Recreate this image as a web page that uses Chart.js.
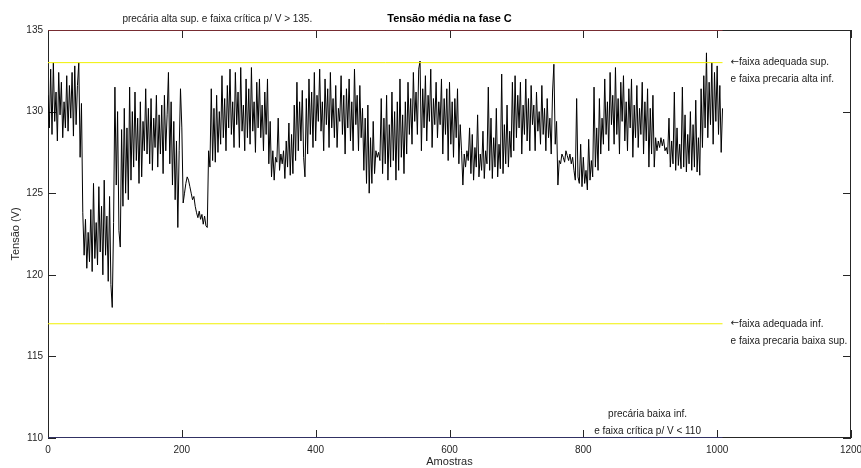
<!DOCTYPE html>
<html lang="pt">
<head>
<meta charset="utf-8">
<title>Tensão média na fase C</title>
<script src="https://cdn.jsdelivr.net/npm/chart.js@4.4.1/dist/chart.umd.min.js"></script>
<style>
  html, body { margin: 0; padding: 0; background: #fff; }
  canvas { display: block; }
</style>
</head>
<body>
<canvas id="tensaoChart" width="861" height="468"></canvas>
<script>
// Tensão lida a cada 2 amostras (V), uma linha por 100 amostras
var passo = 2;
var tensao = [
  131.0, 129.0, 132.6, 128.6, 133.0, 129.4, 131.2, 128.2, 132.4, 129.8, 131.8, 128.4, 130.6, 129.0, 132.2, 128.8, 131.6, 129.6, 132.4, 128.5, 132.8, 129.2, 131.6, 133.0, 127.2,
  130.5, 123.8, 121.2, 123.4, 120.4, 122.6, 120.8, 124.0, 120.2, 125.6, 121.0, 123.2, 120.6, 125.4, 121.4, 124.2, 120.0, 125.8, 121.2, 123.6, 119.6, 124.8, 119.4, 118.0, 123.2,
  131.5, 125.5, 130.0, 122.7, 121.7, 128.9, 124.2, 130.2, 125.0, 129.0, 124.6, 131.5, 125.8, 130.0, 126.6, 131.2, 127.0, 129.6, 125.6, 130.6, 126.0, 129.4, 127.6, 131.4, 127.4,
  130.2, 126.8, 130.8, 126.4, 129.6, 127.8, 131.0, 126.6, 129.8, 127.4, 130.4, 126.2, 131.0, 127.6, 129.8, 132.4, 126.8, 130.6, 125.5, 129.4, 124.6, 128.2, 122.9, 127.6, 131.4,
  129.0, 124.4, 125.0, 125.6, 126.0, 125.8, 125.4, 125.0, 124.6, 124.8, 124.2, 123.8, 123.5, 123.9, 123.4, 123.7, 123.1, 123.6, 123.0, 122.9, 127.6, 126.6, 131.4, 127.0, 130.2,
  126.9, 131.0, 127.5, 130.0, 128.0, 132.2, 128.4, 130.8, 127.6, 131.6, 129.0, 132.6, 128.6, 130.6, 127.8, 132.4, 129.2, 131.2, 127.8, 132.7, 128.8, 130.4, 127.6, 132.0, 128.4,
  131.4, 128.0, 132.7, 128.8, 130.6, 127.5, 131.8, 129.0, 132.0, 128.4, 130.4, 127.6, 131.2, 128.6, 132.0, 126.8, 129.4, 126.0, 127.6, 125.8, 127.2, 126.9, 129.6, 126.4, 127.4,
  126.8, 127.6, 125.9, 128.2, 126.6, 129.3, 126.1, 128.6, 126.2, 130.4, 127.0, 131.8, 127.6, 130.6, 128.2, 131.3, 127.2, 126.0, 130.8, 127.4, 132.0, 128.6, 131.2, 127.8, 132.4,
  128.2, 131.0, 129.4, 132.6, 128.8, 130.6, 127.6, 132.0, 129.2, 131.4, 127.8, 132.4, 129.0, 130.8, 128.4, 131.6, 127.8, 130.2, 129.4, 132.2, 128.6, 131.0, 127.4, 131.4, 129.0,
  132.0, 128.2, 130.6, 127.6, 132.6, 129.2, 131.0, 127.6, 131.6, 128.4, 130.2, 126.4, 129.6, 125.6, 130.4, 125.0, 128.4, 125.6, 129.4, 126.2, 127.6, 127.2, 127.5, 127.0, 130.8,
  126.2, 129.6, 126.8, 131.0, 125.8, 129.2, 126.6, 131.2, 127.0, 130.0, 125.8, 130.6, 126.4, 132.0, 127.2, 129.8, 126.2, 130.6, 127.4, 131.8, 128.6, 130.8, 128.0, 132.4, 129.4,
  131.2, 128.6, 132.6, 133.1, 127.6, 131.4, 129.0, 132.2, 128.2, 131.0, 129.4, 132.6, 127.8, 130.8, 129.2, 131.8, 128.4, 130.6, 129.2, 132.0, 127.4, 130.8, 128.6, 131.4, 127.0,
  131.8, 128.0, 130.6, 127.2, 130.8, 128.4, 131.4, 126.8, 129.2, 127.6, 125.5, 127.4, 126.6, 127.6, 127.0, 129.0, 126.2, 128.6, 125.8, 127.8, 126.6, 129.8, 126.0, 127.4, 126.4,
  128.8, 125.9, 127.6, 126.8, 131.5, 126.4, 129.6, 125.9, 128.4, 126.6, 130.2, 126.0, 128.0, 126.5, 132.3, 126.2, 129.2, 126.8, 130.4, 126.6, 128.8, 127.2, 131.8, 127.6, 132.2,
  128.4, 131.0, 129.0, 131.8, 127.4, 130.4, 128.6, 132.0, 128.2, 130.8, 127.6, 131.6, 129.2, 130.4, 127.6, 131.2, 128.8, 130.0, 128.0, 131.6, 128.6, 130.2, 127.6, 130.8, 128.4,
  129.6, 127.4, 131.2, 132.9, 128.0, 129.4, 125.5, 127.0, 126.8, 127.4, 127.2, 126.9, 127.6, 127.3, 127.0, 127.4, 126.8, 127.2, 126.4, 125.8, 130.8, 126.0, 125.6, 128.0, 125.4,
  127.2, 125.6, 126.4, 125.2, 128.3, 125.8, 127.0, 126.0, 131.5, 126.6, 129.0, 126.4, 130.8, 127.4, 129.6, 128.0, 132.0, 128.6, 130.6, 127.6, 132.4, 129.2, 131.0, 128.0, 132.7,
  128.6, 130.8, 127.4, 131.8, 129.4, 132.2, 128.2, 130.6, 127.6, 131.4, 129.0, 132.0, 127.2, 130.4, 128.4, 131.6, 127.8, 130.2, 128.6, 131.8, 127.4, 130.6, 128.2, 131.4, 126.6,
  130.2, 127.4, 131.0, 126.6, 128.4, 127.6, 128.2, 127.8, 128.4, 127.9, 128.3, 127.6, 127.8, 127.4, 129.6, 126.6, 128.2, 126.8, 131.2, 126.4, 129.0, 126.7, 128.0, 126.5, 131.5,
  126.6, 129.8, 126.3, 128.6, 126.8, 130.0, 126.4, 129.2, 126.6, 130.7, 126.3, 128.4, 126.1, 131.4, 127.8, 132.2, 129.0, 133.6, 128.4, 131.8, 129.2, 133.0, 128.0, 132.4, 129.4,
  132.8, 128.6, 131.6, 127.5, 130.2
];

// Linhas das faixas de tensão
var limites = [135, 133, 117, 110];
var coresLimites = ['#c8323c', '#f0f000', '#f0f000', '#3c3ca0'];
var fimLimites = 1008;

// Ticks dos eixos
var ticksX = [0, 200, 400, 600, 800, 1000, 1200];
var ticksY = [110, 115, 120, 125, 130, 135];

// Textos: [texto, x, y, alinhamento, deslocamento vertical em px]
var textos = [
  ['precária alta sup. e faixa crítica p/ V > 135.', 253, 135, 'center', -11],
  ['\u2190faixa adequada sup.', 1020, 133, 'left', 0],
  ['e faixa precaria alta inf.', 1020, 133, 'left', 17],
  ['\u2190faixa adequada inf.', 1020, 117, 'left', 0],
  ['e faixa precaria baixa sup.', 1020, 117, 'left', 17],
  ['precária baixa inf.', 896, 110, 'center', -24],
  ['e faixa crítica p/ V < 110', 896, 110, 'center', -7]
];

var fonte = '"Liberation Sans", Arial, Helvetica, sans-serif';

var datasets = [];
for (var i = 0; i < limites.length; i++) {
  datasets.push({
    data: [{ x: 0, y: limites[i] }, { x: fimLimites, y: limites[i] }],
    borderColor: coresLimites[i],
    borderWidth: 1,
    pointRadius: 0
  });
}
datasets.push({
  data: tensao.map(function (v, i) { return { x: i * passo, y: v }; }),
  borderColor: '#000',
  borderWidth: 1,
  pointRadius: 0,
  tension: 0
});

// Fundo, moldura, ticks para dentro e textos (estilo MATLAB)
var molduraPlugin = {
  id: 'moldura',
  beforeDraw: function (chart) {
    var ctx = chart.ctx;
    ctx.save();
    ctx.fillStyle = '#fff';
    ctx.fillRect(0, 0, chart.width, chart.height);
    ctx.restore();
  },
  beforeDatasetsDraw: function (chart) {
    var ctx = chart.ctx, a = chart.chartArea;
    var sx = chart.scales.x, sy = chart.scales.y;
    ctx.save();
    ctx.strokeStyle = '#262626';
    ctx.lineWidth = 1;
    ctx.strokeRect(a.left + 0.5, a.top + 0.5, a.right - a.left - 1, a.bottom - a.top - 1);
    ctx.beginPath();
    ticksX.forEach(function (v) {
      var px = Math.round(sx.getPixelForValue(v)) + 0.5;
      ctx.moveTo(px, a.bottom); ctx.lineTo(px, a.bottom - 8);
      ctx.moveTo(px, a.top); ctx.lineTo(px, a.top + 8);
    });
    ticksY.forEach(function (v) {
      var py = Math.round(sy.getPixelForValue(v)) + 0.5;
      ctx.moveTo(a.left, py); ctx.lineTo(a.left + 8, py);
      ctx.moveTo(a.right, py); ctx.lineTo(a.right - 8, py);
    });
    ctx.stroke();
    ctx.restore();
  },
  afterDraw: function (chart) {
    var ctx = chart.ctx, a = chart.chartArea;
    var sx = chart.scales.x, sy = chart.scales.y;
    ctx.save();
    ctx.fillStyle = '#1a1a1a';
    ctx.textBaseline = 'middle';
    textos.forEach(function (t) {
      var x = sx.getPixelForValue(t[1]);
      var y = sy.getPixelForValue(t[2]) + t[4];
      var s = t[0];
      ctx.textAlign = t[3];
      if (s.charAt(0) === '\u2190') {
        // seta com DejaVu, que tem a seta mais larga
        ctx.font = '10px "DejaVu Sans"';
        ctx.fillText('\u2190', x, y);
        x += ctx.measureText('\u2190').width;
        s = s.substring(1);
      }
      ctx.font = '10px ' + fonte;
      ctx.fillText(s, x, y);
    });
    ctx.fillStyle = '#000';
    ctx.textAlign = 'center';
    ctx.font = 'bold 11px ' + fonte;
    ctx.fillText('Tensão média na fase C', (a.left + a.right) / 2, 19);
    ctx.fillStyle = '#262626';
    ctx.font = '11px ' + fonte;
    ctx.fillText('Amostras', (a.left + a.right) / 2, 462);
    ctx.translate(16, (a.top + a.bottom) / 2);
    ctx.rotate(-Math.PI / 2);
    ctx.fillText('Tensão (V)', 0, 0);
    ctx.restore();
  }
};

var ctx = document.getElementById('tensaoChart').getContext('2d');
var chart = new Chart(ctx, {
  type: 'line',
  data: { datasets: datasets },
  options: {
    responsive: false,
    devicePixelRatio: 1,
    animation: false,
    layout: { padding: { top: 30, right: 10, bottom: 0, left: 0 } },
    plugins: { legend: { display: false }, tooltip: { enabled: false } },
    scales: {
      x: {
        type: 'linear',
        min: 0,
        max: 1200,
        grid: { display: false, drawTicks: false },
        border: { display: false },
        ticks: {
          padding: 6, color: '#262626', font: { family: fonte, size: 10 },
          callback: function (v) { return String(v); }
        },
        afterBuildTicks: function (axis) { axis.ticks = ticksX.map(function (v) { return { value: v }; }); },
        afterFit: function (axis) { axis.height = 30; axis.paddingLeft = 0; axis.paddingRight = 0; }
      },
      y: {
        type: 'linear',
        min: 110,
        max: 135,
        grid: { display: false, drawTicks: false },
        border: { display: false },
        ticks: {
          padding: 5, color: '#262626', font: { family: fonte, size: 10 },
          callback: function (v) { return String(v); }
        },
        afterBuildTicks: function (axis) { axis.ticks = ticksY.map(function (v) { return { value: v }; }); },
        afterFit: function (axis) { axis.width = 48; axis.paddingTop = 0; axis.paddingBottom = 0; }
      }
    }
  },
  plugins: [molduraPlugin]
});
</script>
</body>
</html>
